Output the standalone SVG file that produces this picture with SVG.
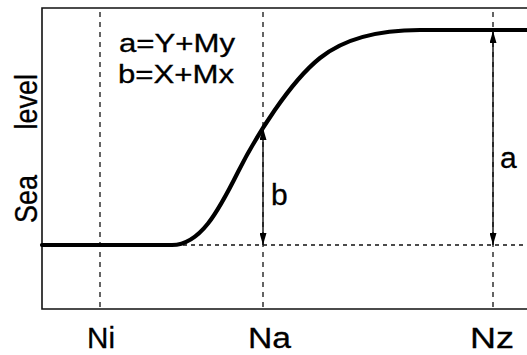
<svg xmlns="http://www.w3.org/2000/svg" width="527" height="355" viewBox="0 0 527 355">
  <defs>
    <style>
      .frame { fill: none; stroke: #111; stroke-width: 1.6; }
      .guide { fill: none; stroke: #111; stroke-width: 1.3; stroke-dasharray: 5 5; }
      .hguide { fill: none; stroke: #111; stroke-width: 1.3; stroke-dasharray: 4 4; }
      .curve { fill: none; stroke: #000; stroke-width: 4.2; stroke-linecap: round; stroke-linejoin: round; }
      .arrow { fill: none; stroke: #111; stroke-width: 1.4; marker-start: url(#head); marker-end: url(#head); }
      text { font-family: "Liberation Sans", Arial, sans-serif; fill: #000; stroke: #000; stroke-width: 0.3; }
      .axis { font-size: 29px; }
      .eq { font-size: 26px; }
      .lbl { font-size: 30px; }
    </style>
    <marker id="head" markerUnits="userSpaceOnUse" markerWidth="12" markerHeight="7" refX="12" refY="3.5" orient="auto-start-reverse">
      <path d="M0,0 L12,3.5 L0,7 Z" fill="#000"/>
    </marker>
  </defs>

  <g id="frame">
    <path class="frame" d="M527,8 H42 V309 H527"/>
  </g>

  <g id="guides">
    <line class="guide" x1="100" y1="12" x2="100" y2="309"/>
    <line class="guide" x1="263" y1="12" x2="263" y2="309"/>
    <line class="guide" x1="493" y1="12" x2="493" y2="309"/>
    <line class="hguide" x1="175" y1="245" x2="527" y2="245"/>
  </g>

  <g id="sea-level-curve">
    <path class="curve" d="M42,245 H172 C200,245 218,212 238,172 C256,136 290,82 320,58 C345,38 380,30 420,30 H527"/>
  </g>

  <g id="connectors">
    <line class="arrow" x1="263" y1="128" x2="263" y2="245"/>
    <line class="arrow" x1="493" y1="31" x2="493" y2="245"/>
  </g>

  <g id="labels">
    <text class="eq" x="119" y="52" textLength="116" lengthAdjust="spacingAndGlyphs">a=Y+My</text>
    <text class="eq" x="118" y="83" textLength="116" lengthAdjust="spacingAndGlyphs">b=X+Mx</text>
    <text class="lbl" x="271" y="205">b</text>
    <text class="lbl" x="500" y="168">a</text>
    <text font-size="27" transform="translate(37,223) rotate(-90) scale(1,1.15)">Sea <tspan dx="38">level</tspan></text>
    <text class="axis" x="87" y="348" textLength="28" lengthAdjust="spacingAndGlyphs">Ni</text>
    <text class="axis" x="248" y="348" textLength="43" lengthAdjust="spacingAndGlyphs">Na</text>
    <text class="axis" x="470" y="348" textLength="44" lengthAdjust="spacingAndGlyphs">Nz</text>
  </g>
</svg>
